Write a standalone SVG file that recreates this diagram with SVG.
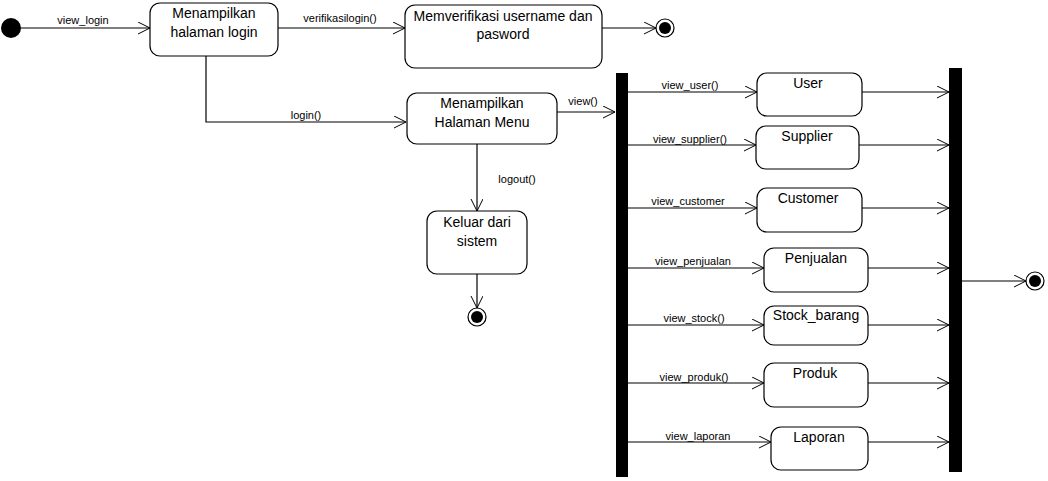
<svg xmlns="http://www.w3.org/2000/svg" width="1048" height="481" viewBox="0 0 1048 481">
<defs>
<marker id="open" markerUnits="userSpaceOnUse" markerWidth="14" markerHeight="14" refX="12" refY="6" orient="auto">
<path d="M0,0 L12,6 L0,12" fill="none" stroke="#000" stroke-width="1"/>
</marker>
<style>
.n{fill:#fff;stroke:#000;stroke-width:1.2}
.t{font-family:"Liberation Sans",Arial,sans-serif;font-size:14px;fill:#000;text-anchor:middle}
.l{font-family:"Liberation Sans",Arial,sans-serif;font-size:11px;fill:#000;text-anchor:middle}
.c{fill:none;stroke:#000;stroke-width:1.2;marker-end:url(#open)}
.bar{fill:#000}
</style>
</defs>
<rect width="1048" height="481" fill="#fff"/>
<g id="connectors">
<path class="c" d="M21,28 L150,28"/>
<text class="l" x="83" y="24">view_login</text>
<path class="c" d="M278,28 L405,28"/>
<text class="l" x="340" y="22">verifikasilogin()</text>
<path class="c" d="M602,28 L656,28"/>
<path class="c" d="M206,56 L206,122 L406,122"/>
<text class="l" x="306" y="119">login()</text>
<path class="c" d="M557,112 L615,112"/>
<text class="l" x="583" y="105">view()</text>
<path class="c" d="M477,144 L477,211"/>
<text class="l" x="517" y="183">logout()</text>
<path class="c" d="M477,274 L477,308"/>
<path class="c" d="M628,92 L757,92"/>
<text class="l" x="690" y="89">view_user()</text>
<path class="c" d="M628,145 L756,145"/>
<text class="l" x="690" y="143">view_supplier()</text>
<path class="c" d="M628,208 L757,208"/>
<text class="l" x="688" y="205">view_customer</text>
<path class="c" d="M628,268 L764,268"/>
<text class="l" x="693" y="265">view_penjualan</text>
<path class="c" d="M628,325 L764,325"/>
<text class="l" x="694" y="322">view_stock()</text>
<path class="c" d="M628,383 L764,383"/>
<text class="l" x="694" y="381">view_produk()</text>
<path class="c" d="M628,442 L771,442"/>
<text class="l" x="698" y="440">view_laporan</text>
<path class="c" d="M862,92 L949,92"/>
<path class="c" d="M859,145 L949,145"/>
<path class="c" d="M862,208 L949,208"/>
<path class="c" d="M868,268 L949,268"/>
<path class="c" d="M868,325 L949,325"/>
<path class="c" d="M868,383 L949,383"/>
<path class="c" d="M868,442 L949,442"/>
<path class="c" d="M962,281 L1026,281"/>
</g>
<g id="start"><circle cx="11" cy="28" r="10" fill="#000"/></g>
<g id="login">
<rect class="n" x="150" y="3" width="128" height="53" rx="10"/>
<text class="t" x="214" y="18">Menampilkan</text>
<text class="t" x="214" y="37">halaman login</text>
</g>
<g id="verifikasi">
<rect class="n" x="405" y="5" width="197" height="63" rx="10"/>
<text class="t" x="503" y="21">Memverifikasi username dan</text>
<text class="t" x="503" y="39">pasword</text>
</g>
<g id="end1"><circle cx="665" cy="28" r="9" fill="#fff" stroke="#000" stroke-width="1.2"/><circle cx="665" cy="28" r="6" fill="#000"/></g>
<g id="menu">
<rect class="n" x="407" y="93" width="150" height="51" rx="10"/>
<text class="t" x="482" y="108">Menampilkan</text>
<text class="t" x="482" y="127">Halaman Menu</text>
</g>
<g id="keluar">
<rect class="n" x="427" y="211" width="100" height="63" rx="10"/>
<text class="t" x="477" y="227">Keluar dari</text>
<text class="t" x="477" y="246">sistem</text>
</g>
<g id="end2"><circle cx="477" cy="317" r="9" fill="#fff" stroke="#000" stroke-width="1.2"/><circle cx="477" cy="317" r="6" fill="#000"/></g>
<g id="fork"><rect class="bar" x="616" y="73" width="12" height="404"/></g>
<g id="user"><rect class="n" x="757" y="73" width="105" height="43" rx="10"/><text class="t" x="808" y="88">User</text></g>
<g id="supplier"><rect class="n" x="756" y="126" width="103" height="43" rx="10"/><text class="t" x="807" y="141">Supplier</text></g>
<g id="customer"><rect class="n" x="757" y="188" width="105" height="44" rx="10"/><text class="t" x="808" y="203">Customer</text></g>
<g id="penjualan"><rect class="n" x="764" y="248" width="104" height="44" rx="10"/><text class="t" x="816" y="263">Penjualan</text></g>
<g id="stock"><rect class="n" x="764" y="306" width="104" height="39" rx="10"/><text class="t" x="816" y="320">Stock_barang</text></g>
<g id="produk"><rect class="n" x="764" y="363" width="104" height="44" rx="10"/><text class="t" x="815" y="378">Produk</text></g>
<g id="laporan"><rect class="n" x="771" y="427" width="97" height="43" rx="10"/><text class="t" x="819" y="442">Laporan</text></g>
<g id="join"><rect class="bar" x="949" y="68" width="13" height="404"/></g>
<g id="end3"><circle cx="1035" cy="281" r="9" fill="#fff" stroke="#000" stroke-width="1.2"/><circle cx="1035" cy="281" r="6" fill="#000"/></g>
</svg>
